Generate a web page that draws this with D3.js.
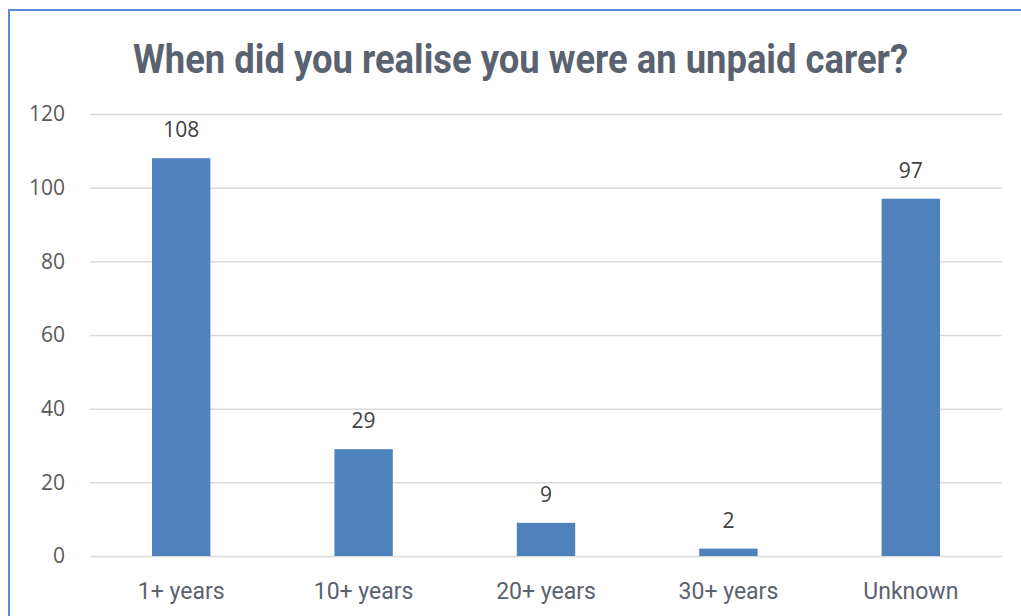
<!DOCTYPE html>
<html>
<head>
<meta charset="utf-8">
<script src="https://cdn.jsdelivr.net/npm/d3@7"></script>
<style>
  html, body { margin: 0; padding: 0; background: #fff; }
  svg { display: block; }
</style>
</head>
<body>
<svg id="chart" width="1021" height="616"></svg>
<script>
// Survey responses: when respondents realised they were an unpaid carer
const categories = ["1+ years", "10+ years", "20+ years", "30+ years", "Unknown"];
const counts = [108, 29, 9, 2, 97];
const yTicks = [0, 20, 40, 60, 80, 100, 120];
const title = "When did you realise you were an unpaid carer?";

const svg = d3.select("#chart");
const W = 1021, H = 616;
const plot = { left: 90, right: 1002, top: 114, bottom: 556 };

// Outer frame (extends past the right and bottom edges)
svg.append("rect")
  .attr("x", 9).attr("y", 10)
  .attr("width", W + 20).attr("height", H + 20)
  .attr("fill", "#fff")
  .attr("stroke", "#5b8bd0")
  .attr("stroke-width", 2);

svg.append("text")
  .attr("x", 133).attr("y", 73)
  .attr("font-family", "'Roboto', 'Liberation Sans', sans-serif")
  .attr("font-weight", "bold")
  .attr("font-size", 40)
  .attr("textLength", 775)
  .attr("lengthAdjust", "spacingAndGlyphs")
  .attr("fill", "#5a6270")
  .text(title);

const x = d3.scaleBand()
  .domain(categories)
  .range([plot.left, plot.right])
  .paddingInner(0.68)
  .paddingOuter(0.34);

const y = d3.scaleLinear()
  .domain([0, 120])
  .range([plot.bottom, plot.top]);

// Gridlines and y-axis labels
const yAxis = d3.axisLeft(y)
  .tickValues(yTicks)
  .tickSize(-(plot.right - plot.left))
  .tickPadding(25);

const gy = svg.append("g")
  .attr("transform", `translate(${plot.left},0)`)
  .call(yAxis);
gy.select(".domain").remove();
gy.selectAll(".tick line")
  .attr("stroke", "#d9d9d9")
  .attr("stroke-width", 1.5);
gy.selectAll(".tick text")
  .attr("font-family", "'Open Sans', 'DejaVu Sans', sans-serif")
  .attr("font-size", 21)
  .attr("fill", "#595959");

// Bars
svg.append("g").selectAll("rect")
  .data(categories)
  .join("rect")
  .attr("x", d => x(d))
  .attr("width", x.bandwidth())
  .attr("y", (d, i) => y(counts[i]))
  .attr("height", (d, i) => y(0) - y(counts[i]))
  .attr("fill", "#4f81bd");

// Value labels
svg.append("g").selectAll("text")
  .data(categories)
  .join("text")
  .attr("x", d => x(d) + x.bandwidth() / 2)
  .attr("y", (d, i) => y(counts[i]) - 21)
  .attr("text-anchor", "middle")
  .attr("font-family", "'Open Sans', 'DejaVu Sans', sans-serif")
  .attr("font-size", 21)
  .attr("fill", "#404040")
  .text((d, i) => counts[i]);

// Category axis
const xAxis = d3.axisBottom(x).tickSize(0).tickPadding(27);
const gx = svg.append("g")
  .attr("transform", `translate(0,${plot.bottom})`)
  .call(xAxis);
gx.select(".domain").remove();
gx.selectAll(".tick text")
  .attr("font-family", "'Roboto', 'DejaVu Sans', sans-serif")
  .attr("font-size", 23)
  .attr("fill", "#5a6270");
</script>
</body>
</html>
